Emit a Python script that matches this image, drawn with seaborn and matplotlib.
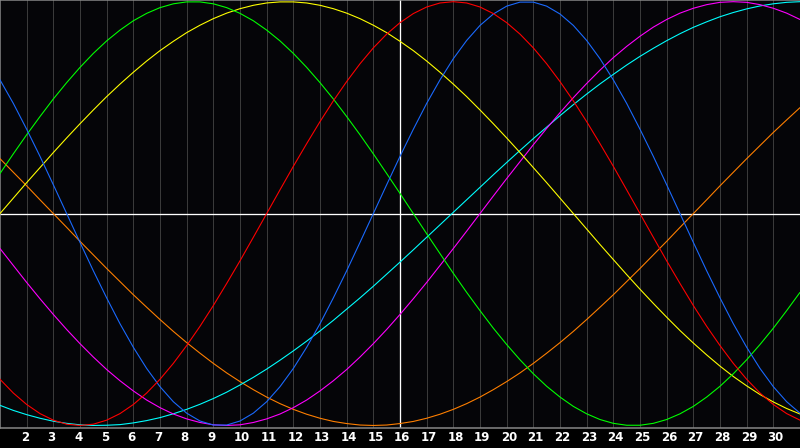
import matplotlib
matplotlib.use("Agg")
import matplotlib.pyplot as plt
import matplotlib.transforms as mtransforms
import seaborn as sns
import pandas as pd

# ---- data ----
days = list(range(1, 32))                       # whole-day readings
half_days = [d + 0.5 for d in range(1, 31)]     # readings between the day lines
tick_days = list(range(2, 31))
tick_labels = [str(d) for d in tick_days]
today = 16

red = [-0.782, -0.901, -0.975, -1.000, -0.975, -0.901, -0.782, -0.623, -0.434, -0.223,
       0.000, 0.223, 0.434, 0.623, 0.782, 0.901, 0.975, 1.000, 0.975, 0.901,
       0.782, 0.623, 0.434, 0.223, 0.000, -0.223, -0.434, -0.623, -0.782, -0.901, -0.975]
red_half = [-0.847, -0.944, -0.994, -0.994, -0.944, -0.847, -0.707, -0.532, -0.330, -0.112,
            0.112, 0.330, 0.532, 0.707, 0.847, 0.944, 0.994, 0.994, 0.944, 0.847,
            0.707, 0.532, 0.330, 0.112, -0.112, -0.330, -0.532, -0.707, -0.847, -0.944]

green = [0.189, 0.372, 0.541, 0.690, 0.815, 0.910, 0.972, 0.999, 0.990, 0.945,
         0.866, 0.756, 0.618, 0.458, 0.282, 0.095, -0.095, -0.282, -0.458, -0.618,
         -0.756, -0.866, -0.945, -0.990, -0.999, -0.972, -0.910, -0.815, -0.690, -0.541, -0.372]
green_half = [0.282, 0.458, 0.618, 0.756, 0.866, 0.945, 0.990, 0.999, 0.972, 0.910,
              0.815, 0.690, 0.541, 0.372, 0.189, 0.000, -0.189, -0.372, -0.541, -0.690,
              -0.815, -0.910, -0.972, -0.999, -0.990, -0.945, -0.866, -0.756, -0.618, -0.458]

yellow = [0.000, 0.146, 0.288, 0.424, 0.552, 0.667, 0.769, 0.854, 0.920, 0.967,
          0.994, 0.999, 0.983, 0.946, 0.889, 0.813, 0.720, 0.611, 0.489, 0.357,
          0.217, 0.073, -0.073, -0.217, -0.357, -0.489, -0.611, -0.720, -0.813, -0.889, -0.946]
yellow_half = [0.073, 0.217, 0.357, 0.489, 0.611, 0.720, 0.813, 0.889, 0.946, 0.983,
               0.999, 0.994, 0.967, 0.920, 0.854, 0.769, 0.667, 0.552, 0.424, 0.288,
               0.146, 0.000, -0.146, -0.288, -0.424, -0.552, -0.667, -0.769, -0.854, -0.920]

blue = [0.631, 0.398, 0.136, -0.136, -0.398, -0.631, -0.817, -0.942, -0.998, -0.979,
        -0.888, -0.731, -0.520, -0.270, 0.000, 0.270, 0.520, 0.731, 0.888, 0.979,
        0.998, 0.942, 0.817, 0.631, 0.398, 0.136, -0.136, -0.398, -0.631, -0.817, -0.942]
blue_half = [0.520, 0.270, 0.000, -0.270, -0.520, -0.731, -0.888, -0.979, -0.998, -0.942,
             -0.817, -0.631, -0.398, -0.136, 0.136, 0.398, 0.631, 0.817, 0.942, 0.998,
             0.979, 0.888, 0.731, 0.520, 0.270, 0.000, -0.270, -0.520, -0.731, -0.888]

magenta = [-0.165, -0.325, -0.476, -0.614, -0.736, -0.837, -0.916, -0.969, -0.997, -0.997,
           -0.969, -0.916, -0.837, -0.736, -0.614, -0.476, -0.325, -0.165, 0.000, 0.165,
           0.325, 0.476, 0.614, 0.736, 0.837, 0.916, 0.969, 0.997, 0.997, 0.969, 0.916]
magenta_half = [-0.245, -0.402, -0.547, -0.677, -0.789, -0.880, -0.946, -0.986, -1.000, -0.986,
                -0.946, -0.880, -0.789, -0.677, -0.547, -0.402, -0.245, -0.083, 0.083, 0.245,
                0.402, 0.547, 0.677, 0.789, 0.880, 0.946, 0.986, 1.000, 0.986, 0.946]

cyan = [-0.905, -0.949, -0.980, -0.997, -0.999, -0.988, -0.963, -0.924, -0.873, -0.809,
        -0.734, -0.648, -0.554, -0.451, -0.343, -0.229, -0.112, 0.006, 0.124, 0.241,
        0.354, 0.462, 0.564, 0.657, 0.742, 0.816, 0.879, 0.929, 0.966, 0.990, 1.000]
cyan_half = [-0.929, -0.966, -0.990, -1.000, -0.996, -0.977, -0.945, -0.900, -0.843, -0.773,
             -0.692, -0.602, -0.504, -0.398, -0.286, -0.171, -0.053, 0.065, 0.183, 0.298,
             0.408, 0.514, 0.612, 0.701, 0.780, 0.849, 0.905, 0.949, 0.980, 0.997]

orange = [0.259, 0.131, 0.000, -0.131, -0.259, -0.383, -0.500, -0.609, -0.707, -0.793,
          -0.866, -0.924, -0.966, -0.991, -1.000, -0.991, -0.966, -0.924, -0.866, -0.793,
          -0.707, -0.609, -0.500, -0.383, -0.259, -0.131, 0.000, 0.131, 0.259, 0.383, 0.500]
orange_half = [0.195, 0.065, -0.065, -0.195, -0.321, -0.442, -0.556, -0.659, -0.752, -0.831,
               -0.897, -0.947, -0.981, -0.998, -0.998, -0.981, -0.947, -0.897, -0.831, -0.752,
               -0.659, -0.556, -0.442, -0.321, -0.195, -0.065, 0.065, 0.195, 0.321, 0.442]

series = [
    ("orange", orange, orange_half, "#FF7F00"),
    ("cyan", cyan, cyan_half, "#00FFFF"),
    ("magenta", magenta, magenta_half, "#FF00FF"),
    ("yellow", yellow, yellow_half, "#FFFF00"),
    ("green", green, green_half, "#00FF00"),
    ("blue", blue, blue_half, "#1A6AFF"),
    ("red", red, red_half, "#FF0000"),
]

sns.set_style("dark")
DPI = 100
fig = plt.figure(figsize=(8.0, 4.48), dpi=DPI, facecolor="#000000")
ax = fig.add_axes([0.0, 20 / 448, 1.0, 428 / 448])
ax.set_facecolor("#050508")

px = 72.0 / DPI  # one pixel in points

# grid lines
for d in tick_days:
    ax.axvline(d, color="#3A3A3A", linewidth=px, zorder=1, antialiased=False)

for name, whole, half, col in series:
    sdf = pd.concat([
        pd.DataFrame({"day": days, "value": whole}),
        pd.DataFrame({"day": half_days, "value": half}),
    ]).sort_values("day")
    sns.lineplot(data=sdf, x="day", y="value", color=col, linewidth=px * 1.1,
                 ax=ax, legend=False, zorder=3, sort=True)

ax.axhline(0, color="white", linewidth=px * 1.3, zorder=2)
ax.axvline(today, color="white", linewidth=px * 1.3, zorder=2)

ax.set_xlim(1, 31)
ax.set_ylim(-1.012, 1.008)
ax.set_xlabel("")
ax.set_ylabel("")
ax.set_yticks([])
ax.grid(False)
ax.set_xticks(tick_days)
ax.set_xticklabels(tick_labels)
ax.tick_params(axis="x", length=0, pad=2.5, colors="white", labelsize=8.5)

offset = mtransforms.ScaledTranslation(-6 / DPI, 0, fig.dpi_scale_trans)
for lab in ax.get_xticklabels():
    lab.set_ha("left")
    lab.set_fontweight("bold")
    lab.set_color("white")
    lab.set_transform(lab.get_transform() + offset)

for side in ["left", "top", "bottom"]:
    ax.spines[side].set_visible(True)
    ax.spines[side].set_color("#8A8A8A")
    ax.spines[side].set_linewidth(px * 1.5)
ax.spines["right"].set_visible(False)

fig.savefig("out.png", dpi=DPI, facecolor="#000000")
